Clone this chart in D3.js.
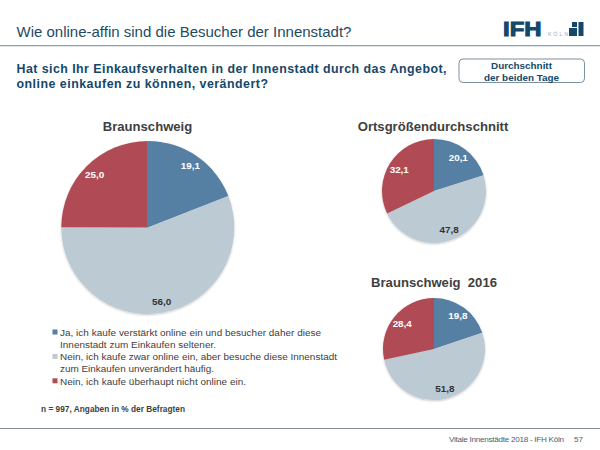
<!DOCTYPE html>
<html><head><meta charset="utf-8">
<script src="https://cdn.jsdelivr.net/npm/d3@7"></script>
<style>html,body{margin:0;padding:0;background:#fff}svg{display:block}text{font-family:"Liberation Sans",Arial,sans-serif;white-space:pre}</style>
</head><body><svg id="c" width="600" height="450"></svg>
<script>
const categories=["Ja","Nein, zwar online","Nein, nicht online"];
const colors=["#5580a4","#bccad4","#b04c54"];
const valuesMain=[19.1,56.0,25.0];
const valuesCity=[20.1,47.8,32.1];
const values2016=[19.8,51.8,28.4];
const legendLines=[
 {t:"Ja, ich kaufe verstärkt online ein und besucher daher diese",c:0},
 {t:"Innenstadt zum Einkaufen seltener."},
 {t:"Nein, ich kaufe zwar online ein, aber besuche diese Innenstadt",c:1},
 {t:"zum Einkaufen unverändert häufig."},
 {t:"Nein, ich kaufe überhaupt nicht online ein.",c:2}];
const svg=d3.select("#c");
const defs=svg.append("defs");
const f=defs.append("filter").attr("id","sh").attr("x","-20%").attr("y","-20%").attr("width","140%").attr("height","140%");
f.append("feDropShadow").attr("dx",0).attr("dy",1).attr("stdDeviation",1).attr("flood-color","#000").attr("flood-opacity",0.22);
function txt(x,y,s,size,col,weight,anchor){return svg.append("text").attr("x",x).attr("y",y).attr("font-size",size).attr("fill",col).attr("font-weight",weight||"normal").attr("text-anchor",anchor||"start").text(s);}
txt(16.5,37,"Wie online-affin sind die Besucher der Innenstadt?",15,"#1f4a63");
svg.append("rect").attr("x",0).attr("y",45).attr("width",600).attr("height",1.3).attr("fill","#8fa3ad");
txt(16.5,72.5,"Hat sich Ihr Einkaufsverhalten in der Innenstadt durch das Angebot,",12.4,"#14476a","bold").attr("textLength",430);
txt(16.5,88,"online einkaufen zu können, verändert?",12.4,"#14476a","bold").attr("textLength",251.5);
svg.append("rect").attr("x",459).attr("y",59).attr("width",125.5).attr("height",23.5).attr("rx",4).attr("fill","#fff").attr("stroke","#6b8494").attr("stroke-width",0.9);
txt(521.5,69,"Durchschnitt",9.9,"#14476a","bold","middle");
txt(521.5,81,"der beiden Tage",9.9,"#14476a","bold","middle");
// logo
txt(503,36,"IFH",19.8,"#14476a","bold").attr("textLength",38.5).attr("lengthAdjust","spacingAndGlyphs").attr("stroke","#14476a").attr("stroke-width",1);
txt(548,36,"KÖLN",5,"#9aaab4").attr("textLength",20);
[[572,22,5,5],[569,28,8,8],[578.5,22,5,14]].forEach(r=>svg.append("rect").attr("x",r[0]).attr("y",r[1]).attr("width",r[2]).attr("height",r[3]).attr("fill","#14476a"));
function pie(vals,cx,cy,r,lf,title,tx,ty){
 txt(tx,ty,title,13.1,"#404040","bold","middle");
 const g=svg.append("g").attr("transform",`translate(${cx},${cy})`);
 const arcs=d3.pie().sort(null)(vals);
 const a=d3.arc().innerRadius(0).outerRadius(r);
 const l=d3.arc().innerRadius(r*lf).outerRadius(r*lf);
 const gs=g.append("g").attr("filter","url(#sh)");
 gs.selectAll("path").data(arcs).join("path").attr("d",a).attr("fill",(d,i)=>colors[i]);
 g.selectAll("text").data(arcs).join("text").attr("transform",d=>`translate(${l.centroid(d)})`)
  .attr("dy","0.35em").attr("text-anchor","middle").attr("font-size",9.9).attr("font-weight","bold")
  .attr("fill",(d,i)=>i==1?"#333":"#fff").text(d=>d.data.toFixed(1).replace(".",","));
}
pie(valuesMain,147.8,227.5,86.5,0.87,"Braunschweig",147.5,131);
pie(valuesCity,434,191,52,0.79,"Ortsgrößendurchschnitt",433,131);
pie(values2016,434,349,51,0.8,"Braunschweig  2016",434,287);
const legendY=[336,348,360.4,372,384.8];
const legendW=[261,156,277,154,186];
legendLines.forEach((d,i)=>{
 const y=legendY[i];
 txt(60,y,d.t,9.93,"#404040").attr("textLength",legendW[i]);
 if(d.c!==undefined)svg.append("rect").attr("x",52.5).attr("y",y-6.5).attr("width",5).attr("height",5).attr("fill",colors[d.c]);
});
txt(41,411.5,"n = 997, Angaben in % der Befragten",8.25,"#404040","bold").attr("textLength",144);
svg.append("rect").attr("x",0).attr("y",428).attr("width",600).attr("height",1).attr("fill","#7f8f98");
txt(449,442,"Vitale Innenstädte 2018 - IFH Köln",8.1,"#4a6070").attr("textLength",115);
txt(574,442,"57",8.1,"#4a6070");
</script></body></html>
